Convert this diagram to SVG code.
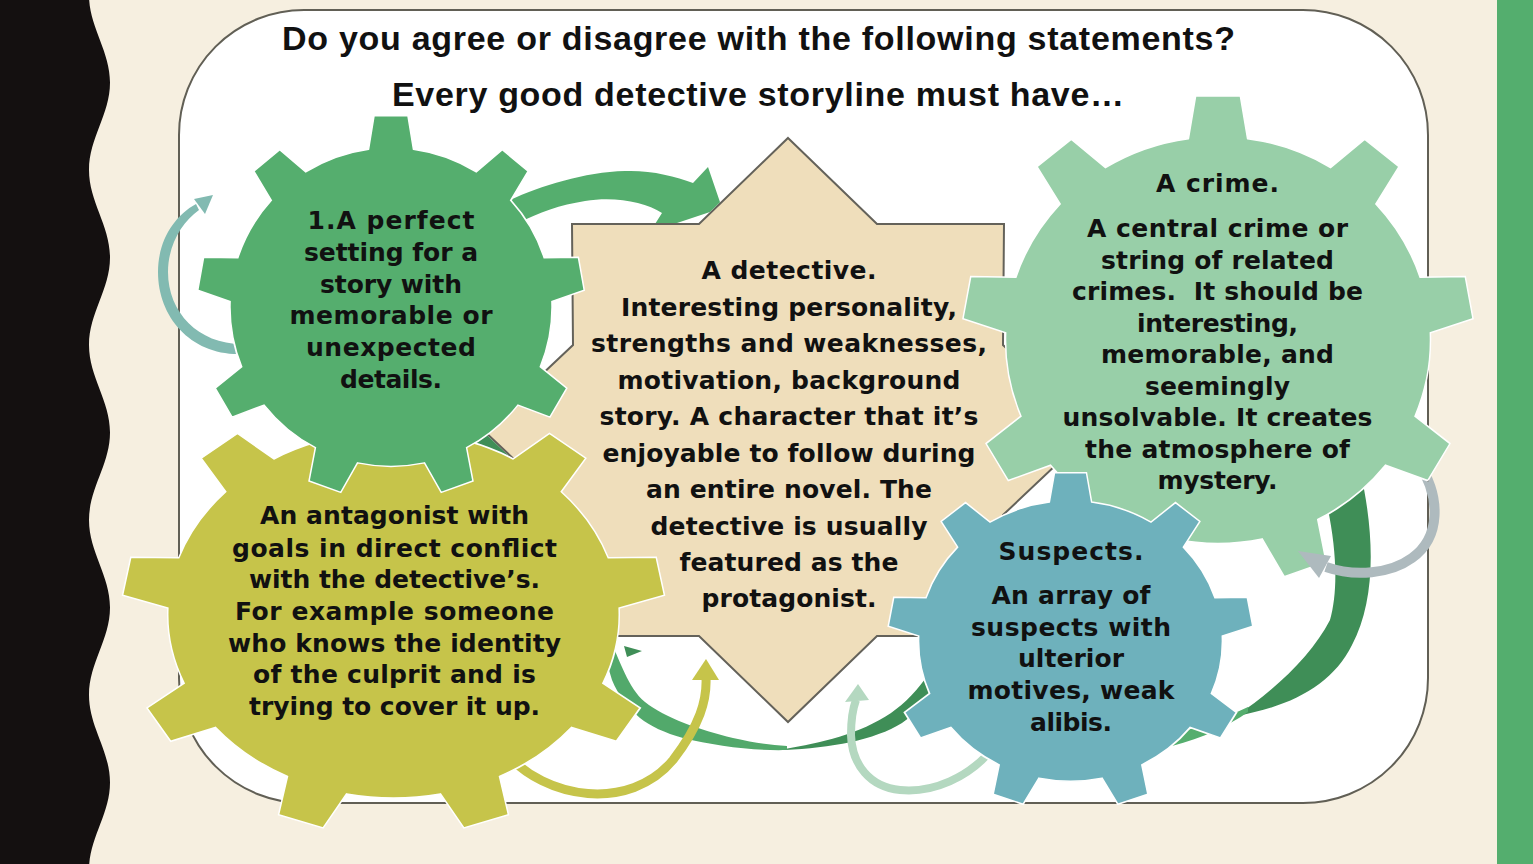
<svg xmlns="http://www.w3.org/2000/svg" width="1533" height="864" viewBox="0 0 1533 864">
<style>
.t{font-family:"DejaVu Sans",Verdana,sans-serif;font-weight:bold;font-size:25px;fill:#111;text-anchor:middle}
.title{font-family:"Liberation Sans",Arial,sans-serif;font-weight:bold;font-size:34px;fill:#111;text-anchor:middle}
.gear{stroke:#fff;stroke-width:1.5}
</style>
<defs>
<path id="gear" vector-effect="non-scaling-stroke" d="M-11.55,-82.19 L-8.72,-99.62 L8.72,-99.62 L11.55,-82.19 A83,83 0 0 1 43.98,-70.38 L57.36,-81.92 L70.71,-70.71 L61.68,-55.54 A83,83 0 0 1 78.94,-25.65 L96.59,-25.88 L99.62,-8.72 L82.95,-2.9 A83,83 0 0 1 76.96,31.09 L90.63,42.26 L81.92,57.36 L65.4,51.1 A83,83 0 0 1 38.97,73.28 L42.26,90.63 L25.88,96.59 L17.26,81.18 A83,83 0 0 1 -17.26,81.18 L-25.88,96.59 L-42.26,90.63 L-38.97,73.28 A83,83 0 0 1 -65.4,51.1 L-81.92,57.36 L-90.63,42.26 L-76.96,31.09 A83,83 0 0 1 -82.95,-2.9 L-99.62,-8.72 L-96.59,-25.88 L-78.94,-25.65 A83,83 0 0 1 -61.68,-55.54 L-70.71,-70.71 L-57.36,-81.92 L-43.98,-70.38 A83,83 0 0 1 -11.55,-82.19 Z"/>
<use id="gGreen" href="#gear" transform="translate(391,307) scale(1.94,1.92)"/>
<use id="gYellow" href="#gear" transform="translate(393.5,614.5) scale(2.72,2.21)"/>
<use id="gCrime" href="#gear" transform="translate(1218,340) scale(2.56,2.45)"/>
<use id="gBlue" href="#gear" transform="translate(1070.5,641) scale(1.83,1.69)"/>
<polygon id="star" points="788,138 877,224 1004,224 1003,345 1093,430 1003,515 1004,636 877,636 788,722 699,636 572,636 573,515 483,430 573,345 572,224 699,224"/>
<mask id="occ" maskUnits="userSpaceOnUse" x="0" y="0" width="1533" height="864">
<rect width="1533" height="864" fill="#fff"/>
<g fill="#000" stroke="#000" stroke-width="2">
<use href="#gYellow"/><use href="#gGreen"/><use href="#gCrime"/><use href="#gBlue"/><use href="#star"/>
</g>
</mask>
</defs>

<rect width="1533" height="864" fill="#F6EFE0"/>
<path fill="#141010" d="M0,-5 L89,-5 C89,27 110,50.5 110,82.5 C110,114.5 89,138 89,170 C89,202 110,225.5 110,257.5 C110,289.5 89,313 89,345 C89,377 110,400.5 110,432.5 C110,464.5 89,488 89,520 C89,552 110,575.5 110,607.5 C110,639.5 89,663 89,695 C89,727 110,750.5 110,782.5 C110,814.5 89,838 89,870 L0,870 Z"/>
<rect x="1497" y="0" width="36" height="864" fill="#54AE6E"/>
<rect x="179" y="10" width="1249" height="793" rx="125" fill="#fff" stroke="#615F55" stroke-width="2"/>

<g id="title">
<text class="title" x="758.5" y="49.5" textLength="953">Do you agree or disagree with the following statements?</text>
<text class="title" x="758" y="105.5" textLength="732">Every good detective storyline must have…</text>
</g>

<g id="node-detective">
<use href="#star" fill="#EFDEBB" stroke="#64625A" stroke-width="2"/>
<text class="t" x="789" y="279" textLength="175">A detective.</text>
<text class="t" x="789" y="316" textLength="336">Interesting personality,</text>
<text class="t" x="789" y="352" textLength="396">strengths and weaknesses,</text>
<text class="t" x="789" y="389" textLength="343">motivation, background</text>
<text class="t" x="789" y="425" textLength="379">story. A character that it’s</text>
<text class="t" x="789" y="462" textLength="373">enjoyable to follow during</text>
<text class="t" x="789" y="498" textLength="286">an entire novel. The</text>
<text class="t" x="789" y="535" textLength="277">detective is usually</text>
<text class="t" x="789" y="571" textLength="219">featured as the</text>
<text class="t" x="789" y="607" textLength="175">protagonist.</text>
</g>

<g id="node-antagonist">
<use href="#gYellow" class="gear" fill="#C6C44A"/>
<text class="t" x="394.5" y="524" textLength="269">An antagonist with</text>
<text class="t" x="394.5" y="557" textLength="325">goals in direct conflict</text>
<text class="t" x="394.5" y="588" textLength="291">with the detective’s.</text>
<text class="t" x="394.5" y="620" textLength="319">For example someone</text>
<text class="t" x="394.5" y="652" textLength="333">who knows the identity</text>
<text class="t" x="394.5" y="683" textLength="283">of the culprit and is</text>
<text class="t" x="394.5" y="715" textLength="291">trying to cover it up.</text>
</g>

<g id="node-setting">
<use href="#gGreen" class="gear" fill="#55AE6E"/>
<text class="t" x="391" y="229" textLength="167">1.A perfect</text>
<text class="t" x="391" y="261" textLength="174">setting for a</text>
<text class="t" x="391" y="293" textLength="142">story with</text>
<text class="t" x="391" y="324" textLength="203">memorable or</text>
<text class="t" x="391" y="356" textLength="170">unexpected</text>
<text class="t" x="391" y="388" textLength="102">details.</text>
</g>

<g id="node-crime">
<use href="#gCrime" class="gear" fill="#98CFA8"/>
<text class="t" x="1217.5" y="192" textLength="123">A crime.</text>
<text class="t" x="1217.5" y="237" textLength="261">A central crime or</text>
<text class="t" x="1217.5" y="268.5" textLength="233">string of related</text>
<text class="t" x="1217.5" y="300" textLength="291" xml:space="preserve">crimes.  It should be</text>
<text class="t" x="1217.5" y="331.5" textLength="161">interesting,</text>
<text class="t" x="1217.5" y="363" textLength="233">memorable, and</text>
<text class="t" x="1217.5" y="394.5" textLength="145">seemingly</text>
<text class="t" x="1217.5" y="426" textLength="310">unsolvable. It creates</text>
<text class="t" x="1217.5" y="457.5" textLength="265">the atmosphere of</text>
<text class="t" x="1217.5" y="489" textLength="120">mystery.</text>
</g>

<g id="node-suspects">
<use href="#gBlue" class="gear" fill="#6EB1BC"/>
<text class="t" x="1071" y="560" textLength="145">Suspects.</text>
<text class="t" x="1071" y="604" textLength="159">An array of</text>
<text class="t" x="1071" y="636" textLength="200">suspects with</text>
<text class="t" x="1071" y="667" textLength="106">ulterior</text>
<text class="t" x="1071" y="699" textLength="207">motives, weak</text>
<text class="t" x="1071" y="731" textLength="82">alibis.</text>
</g>

<g id="connectors">
<g mask="url(#occ)">
<path fill="#3F8E57" d="M1318,470 L1360,470 C1375,535 1376,600 1352,645 C1332,685 1292,706 1236,716 C1275,690 1312,655 1330,620 C1340,585 1336,530 1318,470 Z"/>
<path fill="#55AE6E" d="M1248,707 C1225,718 1200,727 1172,734 L1172,746 C1203,738 1228,726 1248,712 Z"/>
<path fill="#3F8E57" d="M785,749 C820,743 860,734 891,713 C905,703 918,690 930,672 L942,680 C928,700 918,712 902,723 C875,740 830,748 785,750 Z"/>
<path fill="#52A96B" d="M787,750 C755,751 715,746 683,738 C665,733 650,726 640,718 C628,708 618,695 612,680 L600,640 L610,640 C620,660 628,688 645,702 C665,718 700,730 733,738 C755,743 770,745 787,746 Z"/>
<polygon fill="#3F8E57" points="624,646 642,651 627,657"/>
<polygon fill="#3F8E57" points="460,426 490,424 527,470 464,458"/>
<path fill="#55AE6E" d="M510,200 C540,186 585,172 625,171 C650,170 675,176 693,183 L708,167 L722,208 L650,232 L662,213 C645,202 615,196 585,201 C560,205 540,212 516,224 Z"/>
<path fill="#82BAB1" d="M242,354 C192,356 158,318 158,272 C158,241 174,216 196,204 L199,210 C182,222 168,245 168,272 C168,312 198,344 242,344 Z"/>
<polygon fill="#82BAB1" points="194,199 213,195 205,214"/>
<path fill="none" stroke="#C6C44A" stroke-width="9" d="M505,752 C545,800 630,812 673,760 C700,725 707,700 706,678"/>
<polygon fill="#C6C44A" points="692,680 719,680 706,659"/>
<path fill="none" stroke="#B4D8C0" stroke-width="8" d="M998,742 C970,780 930,793 900,790 C870,787 852,765 851,735 C851,720 853,708 856,700"/>
<polygon fill="#B4D8C0" points="845,702 869,700 858,684"/>
<path fill="none" stroke="#AEBABE" stroke-width="10" d="M1418,462 C1442,498 1440,538 1412,558 C1390,574 1355,577 1326,567"/>
</g>
<polygon fill="#AEBABE" points="1331,556 1319,578 1298,551"/>
</g>
</svg>
